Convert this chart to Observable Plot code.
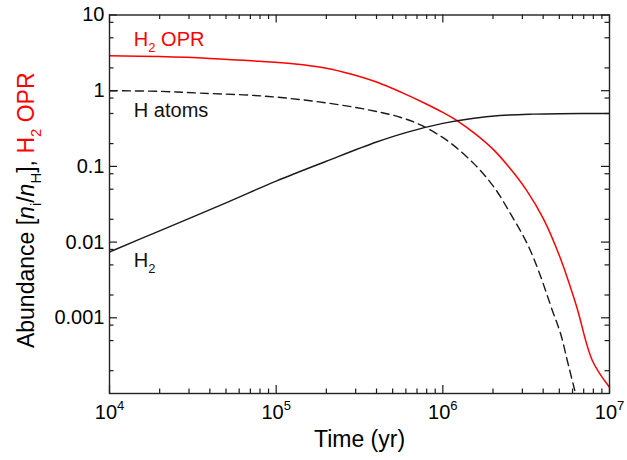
<!DOCTYPE html>
<html><head><meta charset="utf-8">
<script src="https://cdn.jsdelivr.net/npm/d3@7"></script>
<script src="https://cdn.jsdelivr.net/npm/@observablehq/plot@0.6"></script>
<style>body{margin:0;background:#fff;}</style>
</head><body><div id="chart"></div>
<script>
// ---- data ----
const oprTime = [1e4, 2e4, 4e4, 7.9e4, 1.26e5, 2e5, 2.8e5, 4e5, 5.6e5, 7.9e5, 1e6, 1.26e6, 1.58e6, 2e6, 2.5e6, 3.16e6, 4e6, 5e6, 6.3e6, 7.9e6, 1e7];
const oprValue = [2.90, 2.82, 2.67, 2.45, 2.27, 1.98, 1.66, 1.30, 0.957, 0.673, 0.516, 0.383, 0.265, 0.169, 0.0973, 0.0493, 0.0206, 0.00665, 0.00149, 0.000271, 0.000121];
const hTime = [1e4, 2e4, 3.5e4, 9e4, 2.2e5, 4.2e5, 5.6e5, 7.4e5, 1.07e6, 1.54e6, 2.03e6, 2.55e6, 3.21e6, 3.78e6, 4.54e6, 5.09e6, 5.58e6, 6.12e6, 6.76e6];
const hValue = [1.0, 0.98, 0.93, 0.84, 0.67, 0.52, 0.443, 0.35, 0.217, 0.108, 0.053, 0.0236, 0.0095, 0.004, 0.00125, 0.000615, 0.000273, 0.000121, 0.00005];
const h2Time = [1e4, 2e4, 5e4, 1e5, 2e5, 4e5, 6e5, 1e6, 1.5e6, 2.2e6, 3.5e6, 5e6, 1e7];
const h2Value = [0.0074, 0.0141, 0.033, 0.064, 0.117, 0.21, 0.28, 0.37, 0.43, 0.47, 0.49, 0.497, 0.5];

const xMajor = [1e4, 1e5, 1e6, 1e7];
const xTickLabels = ["10^4", "10^5", "10^6", "10^7"];
const xMinor = [2e4,3e4,4e4,5e4,6e4,7e4,8e4,9e4, 2e5,3e5,4e5,5e5,6e5,7e5,8e5,9e5, 2e6,3e6,4e6,5e6,6e6,7e6,8e6,9e6];
const yMajor = [10, 1, 0.1, 0.01, 0.001];
const yTickLabels = ["10", "1", "0.1", "0.01", "0.001"];
const yMinor = [8, 5, 2, 0.8, 0.5, 0.2, 0.08, 0.05, 0.02, 0.008, 0.005, 0.002, 0.0008, 0.0005, 0.0002];

const labelText = ["H_2 OPR", "H atoms", "H_2"];
const labelTime = [1.4e4, 1.4e4, 1.4e4];
const labelValue = [3.95, 0.447, 0.00476];
const labelColor = ["red", "#111", "#111"];

const xTitle = "Time (yr)";
const yTitle = "Abundance [~n_i/~n_H], |H_2 OPR";

// ---- layout ----
const W = 627, H = 460, mL = 109, mR = 18, mT = 14.5, mB = 67;
const fw = W - mL - mR, fh = H - mT - mB;
const ink = "#1a1a1a";

const mk = (t, v) => t.map((d, i) => ({t: d, v: v[i]}));
const labels = labelText.map((s, i) => ({s, t: labelTime[i], v: labelValue[i], c: labelColor[i]}));

const plot = Plot.plot({
  width: W, height: H,
  marginLeft: mL, marginRight: mR, marginTop: mT, marginBottom: mB,
  style: {fontFamily: "'Liberation Sans', Arial, sans-serif", fontSize: "20px", background: "#fff", color: "#000"},
  x: {type: "log", domain: [1e4, 1e7]},
  y: {type: "log", domain: [1e-4, 10]},
  marks: [
    Plot.line(mk(oprTime, oprValue), {x: "t", y: "v", stroke: "red", strokeWidth: 1.5, curve: "catmull-rom", clip: true}),
    Plot.line(mk(hTime, hValue), {x: "t", y: "v", stroke: ink, strokeWidth: 1.4, strokeDasharray: "8,5", curve: "catmull-rom", clip: true}),
    Plot.line(mk(h2Time, h2Value), {x: "t", y: "v", stroke: ink, strokeWidth: 1.4, curve: "catmull-rom", clip: true}),
    // inward ticks on all four sides
    Plot.tickX(xMajor, {x: d => d, insetTop: fh - 8, stroke: ink, strokeWidth: 1.2}),
    Plot.tickX(xMajor, {x: d => d, insetBottom: fh - 8, stroke: ink, strokeWidth: 1.2}),
    Plot.tickX(xMinor, {x: d => d, insetTop: fh - 4.5, stroke: ink, strokeWidth: 1.2}),
    Plot.tickX(xMinor, {x: d => d, insetBottom: fh - 4.5, stroke: ink, strokeWidth: 1.2}),
    Plot.tickY(yMajor, {y: d => d, insetRight: fw - 8, stroke: ink, strokeWidth: 1.2}),
    Plot.tickY(yMajor, {y: d => d, insetLeft: fw - 8, stroke: ink, strokeWidth: 1.2}),
    Plot.tickY(yMinor, {y: d => d, insetRight: fw - 4.5, stroke: ink, strokeWidth: 1.2}),
    Plot.tickY(yMinor, {y: d => d, insetLeft: fw - 4.5, stroke: ink, strokeWidth: 1.2}),
    Plot.frame({stroke: "#222", strokeWidth: 1.4}),
    Plot.axisX(xMajor, {tickSize: 0, tickPadding: 11, fontSize: 20, label: null,
      tickFormat: d => xTickLabels[xMajor.indexOf(d)]}),
    Plot.axisY(yMajor, {tickSize: 0, tickPadding: 5, fontSize: 20, label: null,
      tickFormat: d => yTickLabels[yMajor.indexOf(d)]}),
    Plot.text(labels, {x: "t", y: "v", text: "s", fill: "c", textAnchor: "start", lineAnchor: "bottom", fontSize: 20}),
    Plot.text([xTitle], {frameAnchor: "bottom", dy: 53, text: d => d, fontSize: 23, textAnchor: "middle", lineAnchor: "bottom"}),
    Plot.text([yTitle], {frameAnchor: "left", dx: -76, dy: 6, rotate: -90, text: d => d, fontSize: 23, textAnchor: "middle", lineAnchor: "bottom"})
  ]
});
document.getElementById("chart").appendChild(plot);

// ---- rich text: _x subscript, ^x superscript, ~x italic, | switch to red ----
const NS = "http://www.w3.org/2000/svg";
function rich(el) {
  const s = el.textContent;
  if (!/[_^~|]/.test(s)) return;
  const fs = parseFloat(getComputedStyle(el).fontSize) || 20;
  el.textContent = "";
  let cur = 0, fill = null, i = 0, buf = "";
  const add = (t, o = {}) => {
    const ts = document.createElementNS(NS, "tspan");
    ts.textContent = t;
    const target = o.shift || 0;
    if (target !== cur) { ts.setAttribute("dy", target - cur); cur = target; }
    if (o.small) ts.setAttribute("font-size", fs * 0.65);
    if (o.italic) ts.setAttribute("font-style", "italic");
    if (fill) ts.setAttribute("fill", fill);
    el.appendChild(ts);
  };
  const flush = () => { if (buf) { add(buf); buf = ""; } };
  while (i < s.length) {
    const c = s[i];
    if (c === "|") { flush(); fill = "red"; i++; continue; }
    if (c === "_") { flush(); add(s[i + 1], {small: true, shift: fs * 0.33}); i += 2; continue; }
    if (c === "^") { flush(); add(s[i + 1], {small: true, shift: -fs * 0.42}); i += 2; continue; }
    if (c === "~") { flush(); add(s[i + 1], {italic: true}); i += 2; continue; }
    buf += c; i++;
  }
  flush();
}
plot.querySelectorAll("text").forEach(rich);
</script>
</body></html>
